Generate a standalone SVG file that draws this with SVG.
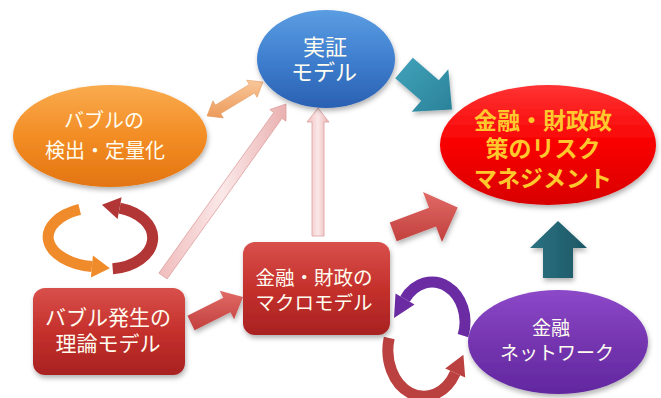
<svg xmlns="http://www.w3.org/2000/svg" width="661" height="398" viewBox="0 0 661 398">
<defs>
<linearGradient id="gBlue" x1="0" y1="0" x2="0" y2="1"><stop offset="0" stop-color="#5b9de2"/><stop offset="0.5" stop-color="#3f7fcf"/><stop offset="1" stop-color="#2a60b2"/></linearGradient>
<linearGradient id="gOrange" x1="0" y1="0" x2="0" y2="1"><stop offset="0" stop-color="#f9ab4e"/><stop offset="0.5" stop-color="#f38d25"/><stop offset="1" stop-color="#e37511"/></linearGradient>
<linearGradient id="gRedE" x1="0" y1="0" x2="0" y2="1"><stop offset="0" stop-color="#ff3434"/><stop offset="0.5" stop-color="#f80000"/><stop offset="1" stop-color="#d80000"/></linearGradient>
<linearGradient id="gPurple" x1="0" y1="0" x2="0" y2="1"><stop offset="0" stop-color="#8c48c8"/><stop offset="0.5" stop-color="#7535b0"/><stop offset="1" stop-color="#6227a0"/></linearGradient>
<linearGradient id="gRect" x1="0" y1="0" x2="0" y2="1"><stop offset="0" stop-color="#d8504b"/><stop offset="0.5" stop-color="#c5302c"/><stop offset="1" stop-color="#a82222"/></linearGradient>
<linearGradient id="gTeal" x1="0" y1="0" x2="1" y2="1"><stop offset="0" stop-color="#41a3ba"/><stop offset="1" stop-color="#2a8299"/></linearGradient>
<linearGradient id="gTealUp" x1="0" y1="0" x2="1" y2="0"><stop offset="0" stop-color="#2b7282"/><stop offset="1" stop-color="#1d5765"/></linearGradient>
<linearGradient id="gSalmon" x1="0" y1="0" x2="0" y2="1"><stop offset="0" stop-color="#e06a66"/><stop offset="1" stop-color="#c2403d"/></linearGradient>
<linearGradient id="gPink" x1="0" y1="0" x2="1" y2="0"><stop offset="0" stop-color="#f0bcbc"/><stop offset="0.5" stop-color="#fbe8e8"/><stop offset="1" stop-color="#eab0b0"/></linearGradient>
<linearGradient id="gPeach" x1="0" y1="0" x2="0" y2="1"><stop offset="0" stop-color="#f9c79a"/><stop offset="1" stop-color="#ec9a5a"/></linearGradient>
<filter id="sh" x="-20%" y="-20%" width="140%" height="150%"><feDropShadow dx="1" dy="3" stdDeviation="2.5" flood-color="#000" flood-opacity="0.3"/></filter>
</defs>
<style>
.t{font-family:"Noto Sans CJK JP","Noto Sans CJK SC",sans-serif;fill:#fffdf0;text-anchor:middle}
.ty{font-family:"Noto Sans CJK JP","Noto Sans CJK SC",sans-serif;fill:#ffc92e;text-anchor:middle;font-weight:bold}
.rib{fill:none;stroke-width:11;stroke-linecap:butt}
.pink{fill:url(#gPink);stroke:#dd9e9e;stroke-width:0.8}
</style>
<rect width="661" height="398" fill="#ffffff"/>
<g id="connectors">
  <polygon id="a-bubble-empirical" class="pink" points="158.9,273.1 273.8,112.5 269.8,109.6 286,104 286,121.2 282,118.3 167.1,278.9"/>
  <polygon id="a-macro-empirical" class="pink" points="312,236 312,122 307,122 318,108 329,122 324,122 324,236"/>
  <polygon id="a-detect-empirical" fill="url(#gPeach)" stroke="#e39a62" stroke-width="0.6" points="263,82 257.1,97.3 254.5,93 220.7,113.6 223.3,117.9 207,116 212.9,100.8 215.5,105 249.3,84.4 246.7,80.2"/>
  <polygon id="a-empirical-risk" fill="url(#gTeal)" filter="url(#sh)" points="412.8,57.8 438.8,80.3 448.3,69.3 452,109.4 411.7,111.7 421.2,100.7 395.2,78.2"/>
  <polygon id="a-macro-risk" fill="url(#gSalmon)" filter="url(#sh)" points="389.7,222.6 429,207.7 423,192 457.7,207.4 442,242 436,226.4 396.7,241.2"/>
  <polygon id="a-bubble-macro" fill="url(#gSalmon)" filter="url(#sh)" points="187.4,315.8 223.3,297.8 219.7,290.7 243,297 234.1,319.3 230.5,312.2 194.6,330.2"/>
  <polygon id="a-network-risk" fill="url(#gTealUp)" filter="url(#sh)" points="543,278 543,248 530,248 558,221 587,248 573,248 573,278"/>
  <g id="cycle-left">
    <path class="rib" stroke="#f08b2c" d="M79.7,209.4 A52,30 0 0 0 91.9,266.6"/>
    <polygon fill="#f08b2c" points="90.9,277.6 92.9,255.6 109.9,268.2"/>
    <path class="rib" stroke="#b23636" d="M112.7,268.8 A45,31 0 0 0 119.6,208.1"/>
    <polygon fill="#b23636" points="121.6,197.3 117.6,218.9 101.9,204.8"/>
  </g>
  <g id="cycle-right">
    <path class="rib" stroke="#6a2ba3" d="M463,335.7 A33,40 0 0 0 405,299"/>
    <polygon fill="#6a2ba3" points="414.5,304.5 395.5,293.5 394,318"/>
    <path class="rib" stroke="#bb4040" d="M389.2,338 A36,46 0 0 0 455.2,373"/>
    <polygon fill="#bb4040" points="465.2,377.5 445.2,368.5 463.4,354.8"/>
  </g>
</g>
<g id="node-empirical">
  <ellipse cx="326" cy="59" rx="69" ry="49" fill="url(#gBlue)" filter="url(#sh)"/>
  <text class="t" font-size="22" x="325" y="55">実証</text>
  <text class="t" font-size="22" x="324" y="80">モデル</text>
</g>
<g id="node-detect">
  <ellipse cx="110" cy="136" rx="97" ry="51" fill="url(#gOrange)" filter="url(#sh)"/>
  <text class="t" font-size="20" x="104" y="127.5">バブルの</text>
  <text class="t" font-size="20" x="105" y="157.5">検出・定量化</text>
</g>
<g id="node-risk">
  <ellipse cx="548" cy="145" rx="108" ry="60" fill="url(#gRedE)" filter="url(#sh)"/>
  <text class="ty" font-size="23" x="543" y="128.5">金融・財政政</text>
  <text class="ty" font-size="23" x="543" y="156.5">策のリスク</text>
  <text class="ty" font-size="23" x="543" y="186.5">マネジメント</text>
</g>
<g id="node-bubble">
  <rect x="33" y="288" width="152" height="87" rx="12" fill="url(#gRect)" filter="url(#sh)"/>
  <text class="t" font-size="21" x="108" y="325">バブル発生の</text>
  <text class="t" font-size="21" x="108" y="351">理論モデル</text>
</g>
<g id="node-macro">
  <rect x="243" y="242" width="147" height="93" rx="12" fill="url(#gRect)" filter="url(#sh)"/>
  <text class="t" font-size="19.5" x="314" y="284.5">金融・財政の</text>
  <text class="t" font-size="19.5" x="314" y="309.5">マクロモデル</text>
</g>
<g id="node-network">
  <ellipse cx="558" cy="342" rx="90" ry="52" fill="url(#gPurple)" filter="url(#sh)"/>
  <text class="t" font-size="19" x="551" y="335">金融</text>
  <text class="t" font-size="19" x="557" y="360">ネットワーク</text>
</g>
</svg>
